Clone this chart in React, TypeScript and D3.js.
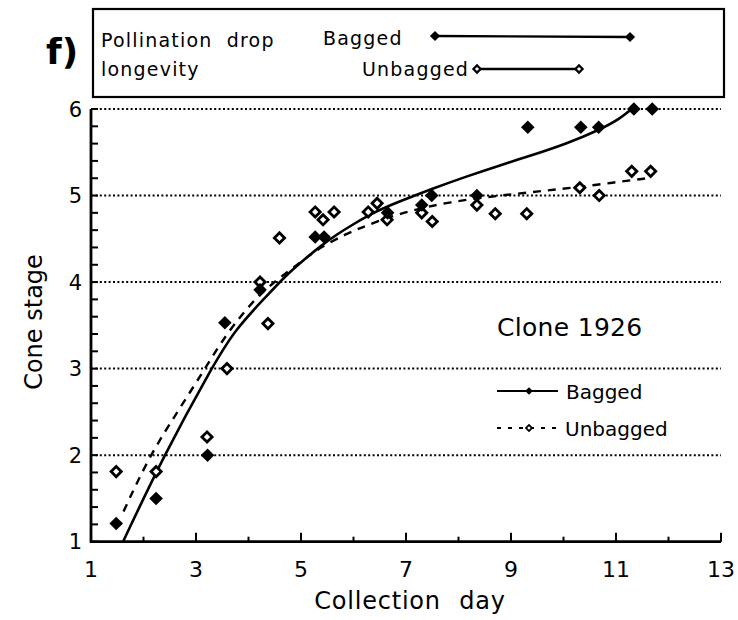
import { useEffect, useRef } from 'react';
import * as d3 from 'd3';

// collection day / cone stage
const bagDays = [1.48, 2.24, 3.22, 3.55, 4.22, 5.27, 5.44, 6.65, 7.3, 7.49, 8.35, 9.32, 10.33, 10.67, 11.34, 11.69];
const bagStages = [1.21, 1.5, 2.0, 3.53, 3.91, 4.52, 4.52, 4.8, 4.89, 5.0, 5.0, 5.79, 5.79, 5.79, 6.0, 6.0];

const unbagDays = [1.48, 2.24, 3.21, 3.59, 4.22, 4.37, 4.59, 5.27, 5.42, 5.63, 6.28, 6.45, 6.64, 7.3, 7.5, 8.35, 8.7, 9.3, 10.31, 10.68, 11.3, 11.66];
const unbagStages = [1.81, 1.81, 2.21, 3.0, 4.0, 3.52, 4.51, 4.81, 4.72, 4.81, 4.81, 4.91, 4.72, 4.8, 4.7, 4.89, 4.79, 4.79, 5.09, 5.0, 5.28, 5.28];

// fitted curves
const bagFitDays = [1.61, 2.39, 3.29, 3.74, 4.35, 4.7, 5.04, 5.36, 5.68, 6.0, 6.31, 6.63, 7.0, 7.51, 8.15, 8.79, 9.42, 10.06, 10.69, 11.08, 11.3];
const bagFitStages = [1.0, 2.0, 3.0, 3.45, 3.84, 4.07, 4.25, 4.41, 4.55, 4.67, 4.78, 4.87, 4.96, 5.08, 5.22, 5.35, 5.47, 5.6, 5.76, 5.89, 6.0];
const unbagFitDays = [1.62, 2.12, 2.67, 3.17, 3.6, 4.06, 4.35, 4.7, 5.04, 5.36, 5.87, 6.16, 6.44, 6.98, 7.84, 8.79, 9.55, 10.18, 10.95, 11.6];
const unbagFitStages = [1.35, 2.0, 2.52, 3.0, 3.42, 3.76, 3.93, 4.1, 4.25, 4.4, 4.56, 4.63, 4.7, 4.81, 4.93, 5.0, 5.05, 5.09, 5.15, 5.2];

const xTicks = [1, 3, 5, 7, 9, 11, 13];
const yTicks = [1, 2, 3, 4, 5, 6];
const gridStages = [2, 3, 4, 5, 6];

const FONT = '"DejaVu Sans", sans-serif';

export default function App() {
  const ref = useRef<SVGSVGElement>(null);

  useEffect(() => {
    const svg = d3.select(ref.current);
    svg.selectAll('*').remove();

    const x = d3.scaleLinear().domain([1, 13]).range([91, 721]);
    const y = d3.scaleLinear().domain([1, 6]).range([541.7, 109]);

    const square = (size: number) => d3.symbol().type(d3.symbolSquare).size(size)();

    // grid
    svg
      .append('g')
      .selectAll('line')
      .data(gridStages)
      .enter()
      .append('line')
      .attr('x1', x(1))
      .attr('x2', x(13))
      .attr('y1', (d) => y(d))
      .attr('y2', (d) => y(d))
      .attr('stroke', '#000')
      .attr('stroke-width', 2)
      .attr('stroke-dasharray', '2,2.4');

    // x axis
    const xAxis = svg.append('g');
    xAxis
      .append('line')
      .attr('x1', x(1) - 1)
      .attr('x2', x(13))
      .attr('y1', y(1))
      .attr('y2', y(1))
      .attr('stroke', '#000')
      .attr('stroke-width', 2.8);
    xAxis
      .selectAll('.tk')
      .data(d3.range(1, 14))
      .enter()
      .append('line')
      .attr('x1', (d) => x(d))
      .attr('x2', (d) => x(d))
      .attr('y1', y(1))
      .attr('y2', (d) => y(1) - (d % 2 === 1 ? 9 : 5))
      .attr('stroke', '#000')
      .attr('stroke-width', 2);
    xAxis
      .selectAll('text')
      .data(xTicks)
      .enter()
      .append('text')
      .attr('x', (d) => x(d))
      .attr('y', y(1) + 35)
      .attr('text-anchor', 'middle')
      .attr('font-family', FONT)
      .attr('font-size', 22)
      .text((d) => d);

    // y axis
    const yAxis = svg.append('g');
    yAxis
      .append('line')
      .attr('x1', x(1))
      .attr('x2', x(1))
      .attr('y1', y(6))
      .attr('y2', y(1) + 1)
      .attr('stroke', '#000')
      .attr('stroke-width', 2.8);
    yAxis
      .selectAll('.tk')
      .data(d3.range(0, 26).map((i) => 1 + i * 0.2))
      .enter()
      .append('line')
      .attr('x1', x(1))
      .attr('x2', x(1) + 7)
      .attr('y1', (d) => y(d))
      .attr('y2', (d) => y(d))
      .attr('stroke', '#000')
      .attr('stroke-width', 2);
    yAxis
      .selectAll('text')
      .data(yTicks)
      .enter()
      .append('text')
      .attr('x', x(1) - 9)
      .attr('y', (d) => y(d))
      .attr('dy', '0.36em')
      .attr('text-anchor', 'end')
      .attr('font-family', FONT)
      .attr('font-size', 21)
      .text((d) => d);

    // axis titles
    svg
      .append('text')
      .attr('x', 410)
      .attr('y', 609)
      .attr('text-anchor', 'middle')
      .attr('font-family', FONT)
      .attr('font-size', 24)
      .attr('letter-spacing', 0.8)
      .attr('word-spacing', 10)
      .text('Collection day');
    svg
      .append('text')
      .attr('transform', 'translate(42,322) rotate(-90)')
      .attr('text-anchor', 'middle')
      .attr('font-family', FONT)
      .attr('font-size', 24)
      .text('Cone stage');

    // fitted curves
    const line = d3
      .line<[number, number]>()
      .x((d) => x(d[0]))
      .y((d) => y(d[1]))
      .curve(d3.curveBasis);
    svg
      .append('path')
      .attr('d', line(d3.zip(bagFitDays, bagFitStages) as [number, number][]))
      .attr('fill', 'none')
      .attr('stroke', '#000')
      .attr('stroke-width', 2.6);
    svg
      .append('path')
      .attr('d', line(d3.zip(unbagFitDays, unbagFitStages) as [number, number][]))
      .attr('fill', 'none')
      .attr('stroke', '#000')
      .attr('stroke-width', 2.4)
      .attr('stroke-dasharray', '8,7');

    // points
    svg
      .append('g')
      .selectAll('path')
      .data(d3.zip(unbagDays, unbagStages))
      .enter()
      .append('path')
      .attr('transform', (d) => `translate(${x(d[0])},${y(d[1])}) rotate(45)`)
      .attr('d', square(52))
      .attr('fill', '#fff')
      .attr('stroke', '#000')
      .attr('stroke-width', 2.8);
    svg
      .append('g')
      .selectAll('path')
      .data(d3.zip(bagDays, bagStages))
      .enter()
      .append('path')
      .attr('transform', (d) => `translate(${x(d[0])},${y(d[1])}) rotate(45)`)
      .attr('d', square(92))
      .attr('fill', '#000');

    // top legend box
    const top = svg
      .append('g')
      .attr('font-family', FONT)
      .attr('font-size', 19)
      .attr('letter-spacing', 1.2);
    top
      .append('rect')
      .attr('x', 93)
      .attr('y', 9)
      .attr('width', 631)
      .attr('height', 88)
      .attr('fill', 'none')
      .attr('stroke', '#000')
      .attr('stroke-width', 2.2);
    top.append('text').attr('x', 101).attr('y', 47).attr('word-spacing', 7).text('Pollination drop');
    top.append('text').attr('x', 101).attr('y', 76).text('longevity');
    top.append('text').attr('x', 323).attr('y', 45).text('Bagged');
    top.append('text').attr('x', 362).attr('y', 76).text('Unbagged');
    top
      .append('line')
      .attr('x1', 435)
      .attr('x2', 630)
      .attr('y1', 36)
      .attr('y2', 37)
      .attr('stroke', '#000')
      .attr('stroke-width', 2.4);
    [435, 630].forEach((cx) => {
      top
        .append('path')
        .attr('transform', `translate(${cx},${cx === 435 ? 36 : 37}) rotate(45)`)
        .attr('d', square(52))
        .attr('fill', '#000');
    });
    top
      .append('line')
      .attr('x1', 477)
      .attr('x2', 579)
      .attr('y1', 69)
      .attr('y2', 69)
      .attr('stroke', '#000')
      .attr('stroke-width', 2.4);
    [477, 579].forEach((cx) => {
      top
        .append('path')
        .attr('transform', `translate(${cx},69) rotate(45)`)
        .attr('d', square(26))
        .attr('fill', '#fff')
        .attr('stroke', '#000')
        .attr('stroke-width', 2.2);
    });

    // f) label
    svg
      .append('text')
      .attr('x', 46)
      .attr('y', 64)
      .attr('font-family', FONT)
      .attr('font-size', 36)
      .attr('font-weight', 'bold')
      .text('f)');

    // inner legend
    const leg = svg.append('g').attr('font-family', FONT);
    leg.append('text').attr('x', 497).attr('y', 336).attr('font-size', 25).attr('letter-spacing', 0.3).text('Clone 1926');
    leg
      .append('line')
      .attr('x1', 497)
      .attr('x2', 558)
      .attr('y1', 391)
      .attr('y2', 391)
      .attr('stroke', '#000')
      .attr('stroke-width', 1.8);
    leg
      .append('path')
      .attr('transform', 'translate(529,391) rotate(45)')
      .attr('d', square(30))
      .attr('fill', '#000');
    leg.append('text').attr('x', 566).attr('y', 399).attr('font-size', 20).text('Bagged');
    leg
      .append('line')
      .attr('x1', 497)
      .attr('x2', 562)
      .attr('y1', 428)
      .attr('y2', 428)
      .attr('stroke', '#000')
      .attr('stroke-width', 1.8)
      .attr('stroke-dasharray', '4,7');
    leg
      .append('path')
      .attr('transform', 'translate(529,428) rotate(45)')
      .attr('d', square(18))
      .attr('fill', '#fff')
      .attr('stroke', '#000')
      .attr('stroke-width', 1.8);
    leg.append('text').attr('x', 565).attr('y', 436).attr('font-size', 20).text('Unbagged');
  }, []);

  return (
    <svg
      ref={ref}
      width={738}
      height={620}
      style={{ position: 'absolute', left: 0, top: 0, background: '#fff' }}
    />
  );
}
